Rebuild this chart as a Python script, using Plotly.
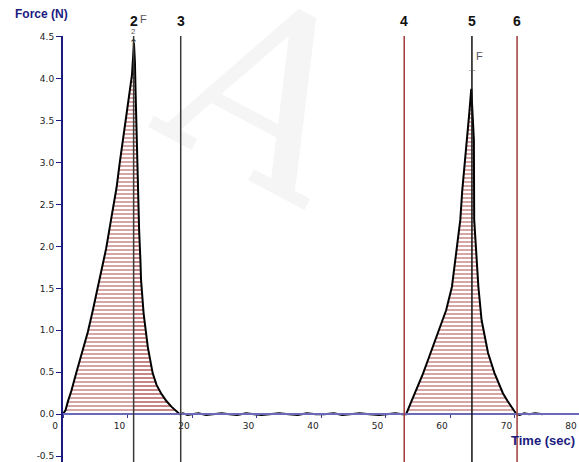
import numpy as np
import plotly.graph_objects as go

# ---- data ----
peak1_t = [0.0, 0.4, 0.75, 1.3, 2.05, 2.9, 3.85, 4.6, 5.3, 6.0, 6.7, 7.45, 7.9, 8.3, 8.8,
           9.2, 9.7, 10.3, 10.7, 11.0, 11.15, 11.25, 11.4, 11.6, 11.8, 12.0, 12.1, 12.5,
           13.15, 13.9, 14.5, 15.2, 16.0, 16.8, 17.5, 18.1]
peak1_f = [0.0, 0.05, 0.15, 0.28, 0.49, 0.73, 0.98, 1.23, 1.48, 1.73, 1.98, 2.32, 2.52, 2.7, 3.0,
           3.22, 3.5, 3.83, 4.05, 4.43, 4.2, 3.85, 3.3, 2.65, 2.2, 1.84, 1.6, 1.2,
           0.80, 0.49, 0.35, 0.25, 0.16, 0.09, 0.04, 0.0]

base1_t = [18.6, 19.3, 20.0, 21.0, 22.2, 23.5, 24.6, 25.8, 27.0, 28.4, 29.6, 30.8, 32.0, 33.5,
           35.0, 36.4, 37.8, 39.2, 40.5, 42.0, 43.3, 44.8, 46.0, 47.5, 49.0, 50.2, 51.5, 52.6]
base1_f = [0.01, -0.01, 0.0, 0.01, -0.01, 0.0, 0.01, 0.0, -0.01, 0.01, 0.0, -0.01, 0.0, 0.01,
           0.0, -0.01, 0.01, 0.0, 0.0, 0.01, -0.01, 0.0, 0.01, 0.0, -0.01, 0.0, 0.01, 0.0]

peak2_t = [53.2, 54.0, 55.0, 55.8, 56.56, 57.3, 58.1, 58.8, 59.4, 60.3, 60.96, 61.6, 61.9,
           62.25, 62.67, 63.0, 63.3, 63.5, 63.7, 63.75, 64.06, 64.4, 64.9, 65.4, 65.9, 66.9,
           67.5, 68.2, 68.9, 69.5, 70.3]
peak2_f = [0.0, 0.15, 0.33, 0.48, 0.64, 0.80, 0.97, 1.10, 1.24, 1.52, 1.92, 2.32, 2.67,
           3.0, 3.39, 3.6, 3.88, 3.6, 3.27, 2.32, 1.92, 1.52, 1.12, 0.90, 0.73, 0.49,
           0.37, 0.25, 0.16, 0.09, 0.0]

base2_t = [70.8, 71.5, 72.3, 73.2, 74.4]
base2_f = [-0.01, 0.01, 0.0, 0.01, 0.0]

marker_labels = ["2", "3", "4", "5", "6"]
marker_times = [10.95, 18.25, 52.9, 63.4, 70.4]
marker_colors = ["#3a3a3a", "#3a3a3a", "#a03a3a", "#111111", "#a03a3a"]

x_ticks = [0, 10, 20, 30, 40, 50, 60, 70, 80]
y_ticks = [-0.5, 0.0, 0.5, 1.0, 1.5, 2.0, 2.5, 3.0, 3.5, 4.0, 4.5]
y_tick_text = ["-0.5", "0.0", "0.5", "1.0", "1.5", "2.0", "2.5", "3.0", "3.5", "4.0", "4.5"]

X_RANGE = [0, 80]
Y_RANGE = [-0.57, 4.51]

NAVY = "#1a1a80"

fig = go.Figure()

# faint watermark letter behind the chart
fig.add_annotation(x=0.391, y=0.861, xref="paper", yref="paper", text="A", showarrow=False,
                   xanchor="center", yanchor="middle", textangle=28,
                   font=dict(family="DejaVu Serif", size=240,
                             color="rgba(120,120,120,0.07)"))

# patterned fills
def fill_trace(t, f, solidity):
    return go.Scatter(x=t, y=f, mode="lines", line=dict(width=0), fill="tozeroy",
                      fillcolor="rgba(0,0,0,0)",
                      fillpattern=dict(shape="-", fgcolor="#921010", bgcolor="white",
                                       size=4, solidity=solidity),
                      hoverinfo="skip", showlegend=False)

p1t = np.array(peak1_t)
p1f = np.array(peak1_f)
split = marker_times[0]
split_f = float(np.interp(split, p1t, p1f))
left_t = list(p1t[p1t < split]) + [split]
left_f = list(p1f[p1t < split]) + [split_f]
right_t = [split] + list(p1t[p1t > split])
right_f = [split_f] + list(p1f[p1t > split])
fig.add_trace(fill_trace(left_t, left_f, 0.38))
fig.add_trace(fill_trace(right_t, right_f, 0.5))
fig.add_trace(fill_trace(peak2_t, peak2_f, 0.38))

# the force curve
all_t = peak1_t + base1_t + peak2_t + base2_t
all_f = peak1_f + base1_f + peak2_f + base2_f
fig.add_trace(go.Scatter(x=all_t, y=all_f, mode="lines",
                         line=dict(color="#000000", width=2), showlegend=False))

# marker lines and labels
for lab, t, c in zip(marker_labels, marker_times, marker_colors):
    fig.add_shape(type="line", x0=t, x1=t, y0=0, y1=1, xref="x", yref="paper",
                  line=dict(color=c, width=1.5))
    fig.add_annotation(x=t, y=1, xref="x", yref="paper", text="<b>%s</b>" % lab,
                       showarrow=False, yshift=15, yanchor="middle",
                       font=dict(family="Liberation Sans", size=14, color="#111111"))

# small extra glyphs near the peaks
fig.add_annotation(x=marker_times[0], y=1, xref="x", yref="paper", text="F", showarrow=False,
                   xshift=10, yshift=17, yanchor="middle",
                   font=dict(family="Liberation Sans", size=11, color="#555555"))
fig.add_annotation(x=marker_times[0], y=1, xref="x", yref="paper", text="2", showarrow=False,
                   yshift=5, yanchor="middle",
                   font=dict(family="Liberation Sans", size=8, color="#555555"))
fig.add_annotation(x=marker_times[0], y=1, xref="x", yref="paper", text="↑", showarrow=False,
                   yshift=-7, yanchor="middle",
                   font=dict(family="DejaVu Sans", size=11, color="#333333"))
fig.add_annotation(x=marker_times[3], y=1, xref="x", yref="paper", text="F", showarrow=False,
                   xshift=8, yshift=-20, yanchor="middle",
                   font=dict(family="Liberation Sans", size=11, color="#555555"))
fig.add_annotation(x=marker_times[3], y=1, xref="x", yref="paper", text="⌒", showarrow=False,
                   yshift=-38, yanchor="middle",
                   font=dict(family="DejaVu Sans", size=10, color="#555555"))

# axis titles
fig.add_annotation(x=0, y=1, xref="paper", yref="paper", text="<b>Force (N)</b>",
                   showarrow=False, xanchor="right", yanchor="middle", xshift=7, yshift=22,
                   font=dict(family="Liberation Sans", size=12, color=NAVY))
fig.add_annotation(x=1, y=0, xref="paper", yref="paper", text="<b>Time (sec)</b>",
                   showarrow=False, xanchor="right", yanchor="middle", xshift=-2, yshift=22,
                   font=dict(family="Liberation Sans", size=13, color=NAVY))

xpos = (0 - Y_RANGE[0]) / (Y_RANGE[1] - Y_RANGE[0])

fig.update_layout(
    width=579, height=462,
    margin=dict(l=63, r=0, t=36, b=0, autoexpand=False),
    paper_bgcolor="white", plot_bgcolor="rgba(0,0,0,0)",
    xaxis=dict(range=X_RANGE, tickvals=x_ticks, ticktext=[str(v) for v in x_ticks],
               anchor="free", position=xpos, showline=True, linecolor="#6a6ab8",
               linewidth=1.5, ticks="outside", ticklen=3, tickcolor="#3a3a90",
               showgrid=False, zeroline=False, ticklabelshift=-8, automargin=False,
               tickfont=dict(family="DejaVu Sans", size=9, color="#222222")),
    yaxis=dict(range=Y_RANGE, tickvals=y_ticks, ticktext=y_tick_text, showline=True,
               linecolor=NAVY, linewidth=2, ticks="outside", ticklen=5, tickcolor=NAVY,
               showgrid=False, zeroline=False, automargin=False,
               tickfont=dict(family="DejaVu Sans", size=9, color="#222222")),
)

# remove the page's default body margin so the figure fills the window exactly
fig.write_html("out.html", config={"displayModeBar": False},
               post_script="document.body.style.margin='0';"
                           "document.body.style.overflow='hidden';")
